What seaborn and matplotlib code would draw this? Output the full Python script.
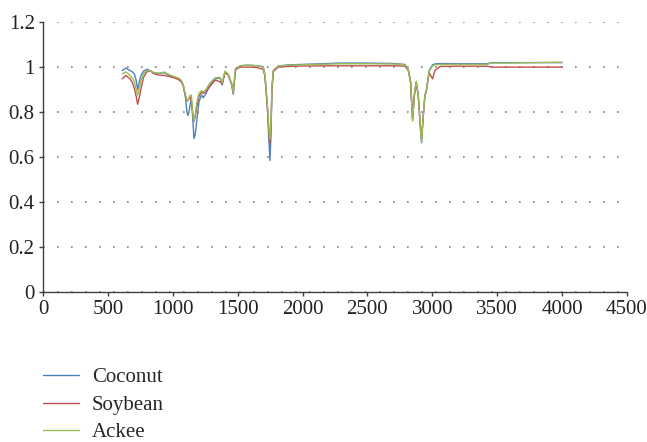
import numpy as np
import pandas as pd
import seaborn as sns
import matplotlib.pyplot as plt

# wavenumber (cm-1)
wavenumber = [610, 625, 637, 655, 670, 690, 704, 718, 729, 740, 755, 775, 799, 825, 850,
              888, 934, 978, 1010, 1042, 1065, 1081, 1099, 1107, 1115, 1124, 1133, 1143,
              1153, 1163, 1173, 1184, 1202, 1222, 1235, 1253, 1287, 1325, 1364, 1381, 1402,
              1428, 1454, 1466, 1475, 1484, 1518, 1556, 1600, 1650, 1697, 1710, 1728, 1740,
              1749, 1757, 1764, 1775, 1813, 1890, 2000, 2288, 2500, 2700, 2789, 2815, 2833,
              2848, 2861, 2876, 2892, 2905, 2917, 2930, 2943, 2956, 2976, 3002, 3020, 3060,
              3200, 3420, 3458, 3600, 3800, 4000]

coconut = [0.985, 0.99, 0.996, 0.99, 0.985, 0.978, 0.97, 0.94, 0.90, 0.93, 0.963, 0.982, 0.99, 0.985, 0.975,
           0.972, 0.975, 0.962, 0.955, 0.95, 0.94, 0.92, 0.86, 0.81, 0.785, 0.80, 0.83, 0.86,
           0.78, 0.683, 0.70, 0.757, 0.846, 0.876, 0.864, 0.88, 0.92, 0.947, 0.952, 0.92, 0.98,
           0.965, 0.92, 0.88, 0.94, 0.99, 1.005, 1.008, 1.008, 1.006, 1.002, 0.963, 0.83, 0.68,
           0.585, 0.70, 0.905, 0.985, 1.005, 1.01, 1.012, 1.018, 1.018, 1.016, 1.012, 0.99, 0.933,
           0.763, 0.874, 0.936, 0.874, 0.76, 0.664, 0.785, 0.874, 0.904, 0.985, 1.01, 1.014, 1.016,
           1.015, 1.015, 1.02, 1.02, 1.02, 1.02]

soybean = [0.948, 0.955, 0.963, 0.955, 0.948, 0.93, 0.904, 0.87, 0.835, 0.86, 0.904, 0.955, 0.978, 0.985, 0.972,
           0.965, 0.963, 0.958, 0.952, 0.945, 0.935, 0.915, 0.87, 0.855, 0.85, 0.86, 0.87, 0.85,
           0.80, 0.757, 0.78, 0.82, 0.87, 0.89, 0.883, 0.89, 0.915, 0.942, 0.935, 0.925, 0.975,
           0.965, 0.925, 0.885, 0.94, 0.99, 1.0, 1.0, 1.0, 0.998, 0.99, 0.96, 0.83, 0.72,
           0.66, 0.74, 0.90, 0.98, 1.0, 1.003, 1.005, 1.006, 1.006, 1.006, 1.004, 0.985, 0.93,
           0.77, 0.87, 0.93, 0.87, 0.76, 0.68, 0.78, 0.87, 0.90, 0.975, 0.948, 0.985, 1.003,
           1.004, 1.004, 1.0, 1.0, 1.0, 1.0]

ackee = [0.97, 0.975, 0.978, 0.972, 0.963, 0.95, 0.935, 0.90, 0.875, 0.90, 0.94, 0.97, 0.985, 0.985, 0.977,
         0.972, 0.978, 0.965, 0.958, 0.952, 0.942, 0.92, 0.875, 0.855, 0.85, 0.86, 0.875, 0.875,
         0.80, 0.76, 0.79, 0.84, 0.885, 0.895, 0.89, 0.90, 0.93, 0.952, 0.955, 0.93, 0.982,
         0.968, 0.925, 0.888, 0.945, 0.995, 1.005, 1.008, 1.008, 1.006, 1.0, 0.965, 0.84, 0.73,
         0.68, 0.75, 0.91, 0.985, 1.005, 1.008, 1.01, 1.015, 1.015, 1.014, 1.01, 0.99, 0.933,
         0.76, 0.874, 0.936, 0.874, 0.76, 0.664, 0.785, 0.874, 0.904, 0.98, 1.005, 1.01, 1.012,
         1.012, 1.012, 1.018, 1.018, 1.02, 1.022]

names = ["Coconut", "Soybean", "Ackee"]
colors = ["#4F81BD", "#C0504D", "#9BBB59"]

df = pd.concat([pd.DataFrame({"x": wavenumber, "y": v, "oil": n})
                for n, v in zip(names, [coconut, soybean, ackee])])

sns.set_theme(style="white")
plt.rcParams['font.family'] = ['Liberation Serif', 'DejaVu Serif']

fig = plt.figure(figsize=(6.47, 4.42), dpi=100)
ax = fig.add_axes([0.0665, 0.339, 0.9025, 0.611])

sns.lineplot(data=df, x="x", y="y", hue="oil", palette=colors, linewidth=1.0,
             ax=ax, legend=False, estimator=None, sort=False)

ax.set_xlim(0, 4500)
ax.set_ylim(0, 1.2)
ax.set_xticks(np.arange(0, 4501, 500))
ax.set_yticks([0, 0.2, 0.4, 0.6, 0.8, 1.0, 1.2])
ax.set_yticklabels(["0", "0.2", "0.4", "0.6", "0.8", "1", "1.2"])
ax.set_xlabel("")
ax.set_ylabel("")
ax.yaxis.grid(True, color="#7f7f7f", linestyle=(0, (1, 7.4)), linewidth=1.2)
ax.tick_params(axis="both", direction="out", length=3, width=1, color="#404040",
               labelsize=15, labelcolor="#222222", pad=3, bottom=True, left=True)
for s in ["top", "right"]:
    ax.spines[s].set_visible(False)
for s in ["left", "bottom"]:
    ax.spines[s].set_color("#404040")
    ax.spines[s].set_linewidth(1.0)

handles = [plt.Line2D([], [], color=c, linewidth=1.0) for c in colors]
fig.legend(handles, names, loc="upper left", bbox_to_anchor=(0.0665, 0.168),
           frameon=False, fontsize=15, handlelength=1.75, handletextpad=0.6,
           labelspacing=0.38, borderpad=0, borderaxespad=0)

fig.savefig("out.png", dpi=100)
